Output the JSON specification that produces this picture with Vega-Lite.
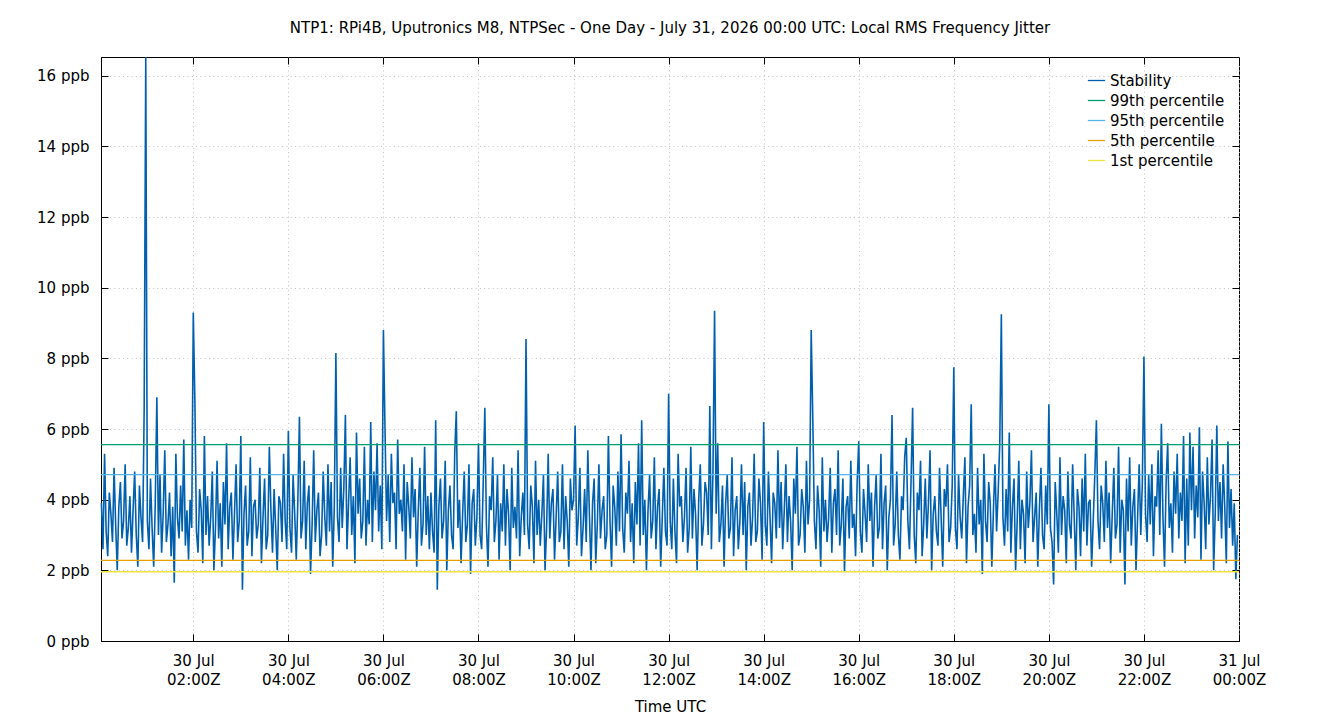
{
"$schema": "https://vega.github.io/schema/vega-lite/v6.json",
"autosize": "none",
"width": 1138,
"height": 584,
"padding": {"left": 101, "top": 57, "right": 101, "bottom": 79},
"background": "white",
"title": {"text": "NTP1: RPi4B, Uputronics M8, NTPSec - One Day - July 31, 2026 00:00 UTC: Local RMS Frequency Jitter", "fontSize": 15, "fontWeight": "normal", "color": "black", "offset": 18},
"datasets": {
"pct": [
{"p": "99th percentile", "v": 5.56},
{"p": "95th percentile", "v": 4.71},
{"p": "5th percentile", "v": 2.28},
{"p": "1st percentile", "v": 1.96}
],
"stab": [
{"t":"2026-07-30T00:04Z","v":3.9},{"t":"2026-07-30T00:06Z","v":2.6},{"t":"2026-07-30T00:08Z","v":5.3},{"t":"2026-07-30T00:10Z","v":3.1},{"t":"2026-07-30T00:12Z","v":2.4},{"t":"2026-07-30T00:14Z","v":4.2},{"t":"2026-07-30T00:16Z","v":3.6},{"t":"2026-07-30T00:18Z","v":2.8},{"t":"2026-07-30T00:20Z","v":4.9},{"t":"2026-07-30T00:22Z","v":3.3},{"t":"2026-07-30T00:24Z","v":2.0},{"t":"2026-07-30T00:26Z","v":3.8},{"t":"2026-07-30T00:28Z","v":4.5},{"t":"2026-07-30T00:30Z","v":2.9},{"t":"2026-07-30T00:32Z","v":3.4},{"t":"2026-07-30T00:34Z","v":5.0},{"t":"2026-07-30T00:36Z","v":2.7},{"t":"2026-07-30T00:38Z","v":3.2},{"t":"2026-07-30T00:40Z","v":4.1},{"t":"2026-07-30T00:42Z","v":2.5},{"t":"2026-07-30T00:44Z","v":3.7},{"t":"2026-07-30T00:46Z","v":4.8},{"t":"2026-07-30T00:48Z","v":3.0},{"t":"2026-07-30T00:50Z","v":2.1},{"t":"2026-07-30T00:52Z","v":4.4},{"t":"2026-07-30T00:54Z","v":3.5},{"t":"2026-07-30T00:56Z","v":2.8},{"t":"2026-07-30T00:58Z","v":6.55},
{"t":"2026-07-30T01:00Z","v":16.53},{"t":"2026-07-30T01:02Z","v":3.4},{"t":"2026-07-30T01:04Z","v":2.6},{"t":"2026-07-30T01:06Z","v":4.6},{"t":"2026-07-30T01:08Z","v":3.2},{"t":"2026-07-30T01:10Z","v":2.1},{"t":"2026-07-30T01:12Z","v":3.9},{"t":"2026-07-30T01:14Z","v":6.9},{"t":"2026-07-30T01:16Z","v":3.0},{"t":"2026-07-30T01:18Z","v":4.7},{"t":"2026-07-30T01:20Z","v":2.5},{"t":"2026-07-30T01:22Z","v":3.6},{"t":"2026-07-30T01:24Z","v":5.4},{"t":"2026-07-30T01:26Z","v":2.8},{"t":"2026-07-30T01:28Z","v":3.3},{"t":"2026-07-30T01:30Z","v":4.2},{"t":"2026-07-30T01:32Z","v":2.4},{"t":"2026-07-30T01:34Z","v":3.8},{"t":"2026-07-30T01:36Z","v":1.65},{"t":"2026-07-30T01:38Z","v":5.3},{"t":"2026-07-30T01:40Z","v":3.5},{"t":"2026-07-30T01:42Z","v":2.9},{"t":"2026-07-30T01:44Z","v":4.4},{"t":"2026-07-30T01:46Z","v":3.1},{"t":"2026-07-30T01:48Z","v":5.7},{"t":"2026-07-30T01:50Z","v":2.7},{"t":"2026-07-30T01:52Z","v":3.7},{"t":"2026-07-30T01:54Z","v":2.3},{"t":"2026-07-30T01:56Z","v":4.0},{"t":"2026-07-30T01:58Z","v":3.2},
{"t":"2026-07-30T02:00Z","v":9.3},{"t":"2026-07-30T02:02Z","v":6.8},{"t":"2026-07-30T02:04Z","v":3.1},{"t":"2026-07-30T02:06Z","v":2.5},{"t":"2026-07-30T02:08Z","v":4.3},{"t":"2026-07-30T02:10Z","v":3.7},{"t":"2026-07-30T02:12Z","v":2.2},{"t":"2026-07-30T02:14Z","v":5.8},{"t":"2026-07-30T02:16Z","v":3.0},{"t":"2026-07-30T02:18Z","v":4.1},{"t":"2026-07-30T02:20Z","v":2.7},{"t":"2026-07-30T02:22Z","v":3.5},{"t":"2026-07-30T02:24Z","v":4.8},{"t":"2026-07-30T02:26Z","v":2.0},{"t":"2026-07-30T02:28Z","v":3.2},{"t":"2026-07-30T02:30Z","v":5.1},{"t":"2026-07-30T02:32Z","v":2.9},{"t":"2026-07-30T02:34Z","v":3.9},{"t":"2026-07-30T02:36Z","v":2.1},{"t":"2026-07-30T02:38Z","v":4.5},{"t":"2026-07-30T02:40Z","v":3.3},{"t":"2026-07-30T02:42Z","v":5.6},{"t":"2026-07-30T02:44Z","v":2.6},{"t":"2026-07-30T02:46Z","v":3.8},{"t":"2026-07-30T02:48Z","v":4.2},{"t":"2026-07-30T02:50Z","v":2.3},{"t":"2026-07-30T02:52Z","v":3.6},{"t":"2026-07-30T02:54Z","v":5.0},{"t":"2026-07-30T02:56Z","v":2.8},{"t":"2026-07-30T02:58Z","v":3.4},
{"t":"2026-07-30T03:00Z","v":5.8},{"t":"2026-07-30T03:02Z","v":1.45},{"t":"2026-07-30T03:04Z","v":3.6},{"t":"2026-07-30T03:06Z","v":4.4},{"t":"2026-07-30T03:08Z","v":2.7},{"t":"2026-07-30T03:10Z","v":3.1},{"t":"2026-07-30T03:12Z","v":5.2},{"t":"2026-07-30T03:14Z","v":2.4},{"t":"2026-07-30T03:16Z","v":3.8},{"t":"2026-07-30T03:18Z","v":4.0},{"t":"2026-07-30T03:20Z","v":2.9},{"t":"2026-07-30T03:22Z","v":3.3},{"t":"2026-07-30T03:24Z","v":4.9},{"t":"2026-07-30T03:26Z","v":2.2},{"t":"2026-07-30T03:28Z","v":3.5},{"t":"2026-07-30T03:30Z","v":4.6},{"t":"2026-07-30T03:32Z","v":2.6},{"t":"2026-07-30T03:34Z","v":3.0},{"t":"2026-07-30T03:36Z","v":5.5},{"t":"2026-07-30T03:38Z","v":3.7},{"t":"2026-07-30T03:40Z","v":2.5},{"t":"2026-07-30T03:42Z","v":4.3},{"t":"2026-07-30T03:44Z","v":3.2},{"t":"2026-07-30T03:46Z","v":2.0},{"t":"2026-07-30T03:48Z","v":4.1},{"t":"2026-07-30T03:50Z","v":3.9},{"t":"2026-07-30T03:52Z","v":2.8},{"t":"2026-07-30T03:54Z","v":5.3},{"t":"2026-07-30T03:56Z","v":3.4},{"t":"2026-07-30T03:58Z","v":2.6},
{"t":"2026-07-30T04:00Z","v":5.95},{"t":"2026-07-30T04:02Z","v":3.2},{"t":"2026-07-30T04:04Z","v":2.5},{"t":"2026-07-30T04:06Z","v":4.7},{"t":"2026-07-30T04:08Z","v":3.6},{"t":"2026-07-30T04:10Z","v":2.3},{"t":"2026-07-30T04:12Z","v":4.0},{"t":"2026-07-30T04:14Z","v":6.35},{"t":"2026-07-30T04:16Z","v":2.9},{"t":"2026-07-30T04:18Z","v":3.4},{"t":"2026-07-30T04:20Z","v":5.1},{"t":"2026-07-30T04:22Z","v":2.6},{"t":"2026-07-30T04:24Z","v":3.9},{"t":"2026-07-30T04:26Z","v":4.4},{"t":"2026-07-30T04:28Z","v":1.9},{"t":"2026-07-30T04:30Z","v":3.3},{"t":"2026-07-30T04:32Z","v":5.4},{"t":"2026-07-30T04:34Z","v":2.8},{"t":"2026-07-30T04:36Z","v":3.7},{"t":"2026-07-30T04:38Z","v":4.2},{"t":"2026-07-30T04:40Z","v":2.4},{"t":"2026-07-30T04:42Z","v":3.0},{"t":"2026-07-30T04:44Z","v":4.8},{"t":"2026-07-30T04:46Z","v":3.5},{"t":"2026-07-30T04:48Z","v":2.7},{"t":"2026-07-30T04:50Z","v":5.0},{"t":"2026-07-30T04:52Z","v":3.1},{"t":"2026-07-30T04:54Z","v":4.5},{"t":"2026-07-30T04:56Z","v":2.1},{"t":"2026-07-30T04:58Z","v":3.8},
{"t":"2026-07-30T05:00Z","v":8.15},{"t":"2026-07-30T05:02Z","v":3.5},{"t":"2026-07-30T05:04Z","v":2.8},{"t":"2026-07-30T05:06Z","v":4.9},{"t":"2026-07-30T05:08Z","v":3.2},{"t":"2026-07-30T05:10Z","v":4.3},{"t":"2026-07-30T05:12Z","v":6.4},{"t":"2026-07-30T05:14Z","v":2.6},{"t":"2026-07-30T05:16Z","v":3.9},{"t":"2026-07-30T05:18Z","v":5.2},{"t":"2026-07-30T05:20Z","v":3.0},{"t":"2026-07-30T05:22Z","v":4.1},{"t":"2026-07-30T05:24Z","v":2.2},{"t":"2026-07-30T05:26Z","v":5.9},{"t":"2026-07-30T05:28Z","v":3.6},{"t":"2026-07-30T05:30Z","v":4.6},{"t":"2026-07-30T05:32Z","v":2.9},{"t":"2026-07-30T05:34Z","v":3.4},{"t":"2026-07-30T05:36Z","v":5.5},{"t":"2026-07-30T05:38Z","v":2.7},{"t":"2026-07-30T05:40Z","v":4.0},{"t":"2026-07-30T05:42Z","v":3.3},{"t":"2026-07-30T05:44Z","v":6.2},{"t":"2026-07-30T05:46Z","v":2.8},{"t":"2026-07-30T05:48Z","v":4.8},{"t":"2026-07-30T05:50Z","v":3.7},{"t":"2026-07-30T05:52Z","v":5.6},{"t":"2026-07-30T05:54Z","v":3.1},{"t":"2026-07-30T05:56Z","v":4.4},{"t":"2026-07-30T05:58Z","v":2.6},
{"t":"2026-07-30T06:00Z","v":8.8},{"t":"2026-07-30T06:02Z","v":6.0},{"t":"2026-07-30T06:04Z","v":3.4},{"t":"2026-07-30T06:06Z","v":4.7},{"t":"2026-07-30T06:08Z","v":2.8},{"t":"2026-07-30T06:10Z","v":5.3},{"t":"2026-07-30T06:12Z","v":3.9},{"t":"2026-07-30T06:14Z","v":4.2},{"t":"2026-07-30T06:16Z","v":2.6},{"t":"2026-07-30T06:18Z","v":5.7},{"t":"2026-07-30T06:20Z","v":3.6},{"t":"2026-07-30T06:22Z","v":4.0},{"t":"2026-07-30T06:24Z","v":3.1},{"t":"2026-07-30T06:26Z","v":5.0},{"t":"2026-07-30T06:28Z","v":2.3},{"t":"2026-07-30T06:30Z","v":4.5},{"t":"2026-07-30T06:32Z","v":3.8},{"t":"2026-07-30T06:34Z","v":2.9},{"t":"2026-07-30T06:36Z","v":5.2},{"t":"2026-07-30T06:38Z","v":3.5},{"t":"2026-07-30T06:40Z","v":4.3},{"t":"2026-07-30T06:42Z","v":2.1},{"t":"2026-07-30T06:44Z","v":3.7},{"t":"2026-07-30T06:46Z","v":4.9},{"t":"2026-07-30T06:48Z","v":2.7},{"t":"2026-07-30T06:50Z","v":3.3},{"t":"2026-07-30T06:52Z","v":5.5},{"t":"2026-07-30T06:54Z","v":3.0},{"t":"2026-07-30T06:56Z","v":4.1},{"t":"2026-07-30T06:58Z","v":2.6},
{"t":"2026-07-30T07:00Z","v":4.2},{"t":"2026-07-30T07:02Z","v":3.1},{"t":"2026-07-30T07:04Z","v":2.5},{"t":"2026-07-30T07:06Z","v":6.25},{"t":"2026-07-30T07:08Z","v":1.45},{"t":"2026-07-30T07:10Z","v":3.8},{"t":"2026-07-30T07:12Z","v":4.6},{"t":"2026-07-30T07:14Z","v":2.9},{"t":"2026-07-30T07:16Z","v":3.4},{"t":"2026-07-30T07:18Z","v":5.1},{"t":"2026-07-30T07:20Z","v":2.0},{"t":"2026-07-30T07:22Z","v":3.7},{"t":"2026-07-30T07:24Z","v":4.4},{"t":"2026-07-30T07:26Z","v":3.0},{"t":"2026-07-30T07:28Z","v":2.6},{"t":"2026-07-30T07:30Z","v":5.3},{"t":"2026-07-30T07:32Z","v":6.5},{"t":"2026-07-30T07:34Z","v":3.2},{"t":"2026-07-30T07:36Z","v":4.0},{"t":"2026-07-30T07:38Z","v":2.2},{"t":"2026-07-30T07:40Z","v":3.6},{"t":"2026-07-30T07:42Z","v":4.8},{"t":"2026-07-30T07:44Z","v":2.8},{"t":"2026-07-30T07:46Z","v":3.3},{"t":"2026-07-30T07:48Z","v":5.0},{"t":"2026-07-30T07:50Z","v":1.9},{"t":"2026-07-30T07:52Z","v":3.9},{"t":"2026-07-30T07:54Z","v":4.3},{"t":"2026-07-30T07:56Z","v":2.7},{"t":"2026-07-30T07:58Z","v":3.5},
{"t":"2026-07-30T08:00Z","v":5.6},{"t":"2026-07-30T08:02Z","v":3.0},{"t":"2026-07-30T08:04Z","v":2.6},{"t":"2026-07-30T08:06Z","v":4.5},{"t":"2026-07-30T08:08Z","v":6.6},{"t":"2026-07-30T08:10Z","v":3.3},{"t":"2026-07-30T08:12Z","v":2.1},{"t":"2026-07-30T08:14Z","v":4.1},{"t":"2026-07-30T08:16Z","v":3.7},{"t":"2026-07-30T08:18Z","v":5.2},{"t":"2026-07-30T08:20Z","v":2.8},{"t":"2026-07-30T08:22Z","v":3.4},{"t":"2026-07-30T08:24Z","v":4.7},{"t":"2026-07-30T08:26Z","v":2.3},{"t":"2026-07-30T08:28Z","v":3.9},{"t":"2026-07-30T08:30Z","v":3.1},{"t":"2026-07-30T08:32Z","v":5.0},{"t":"2026-07-30T08:34Z","v":2.7},{"t":"2026-07-30T08:36Z","v":4.3},{"t":"2026-07-30T08:38Z","v":3.6},{"t":"2026-07-30T08:40Z","v":2.0},{"t":"2026-07-30T08:42Z","v":4.9},{"t":"2026-07-30T08:44Z","v":3.2},{"t":"2026-07-30T08:46Z","v":3.8},{"t":"2026-07-30T08:48Z","v":2.9},{"t":"2026-07-30T08:50Z","v":5.4},{"t":"2026-07-30T08:52Z","v":2.4},{"t":"2026-07-30T08:54Z","v":3.5},{"t":"2026-07-30T08:56Z","v":4.2},{"t":"2026-07-30T08:58Z","v":3.0},
{"t":"2026-07-30T09:00Z","v":8.55},{"t":"2026-07-30T09:02Z","v":3.3},{"t":"2026-07-30T09:04Z","v":2.6},{"t":"2026-07-30T09:06Z","v":4.4},{"t":"2026-07-30T09:08Z","v":3.8},{"t":"2026-07-30T09:10Z","v":2.2},{"t":"2026-07-30T09:12Z","v":5.1},{"t":"2026-07-30T09:14Z","v":3.0},{"t":"2026-07-30T09:16Z","v":4.0},{"t":"2026-07-30T09:18Z","v":2.7},{"t":"2026-07-30T09:20Z","v":3.6},{"t":"2026-07-30T09:22Z","v":4.7},{"t":"2026-07-30T09:24Z","v":2.0},{"t":"2026-07-30T09:26Z","v":3.2},{"t":"2026-07-30T09:28Z","v":5.3},{"t":"2026-07-30T09:30Z","v":2.9},{"t":"2026-07-30T09:32Z","v":3.9},{"t":"2026-07-30T09:34Z","v":4.3},{"t":"2026-07-30T09:36Z","v":2.3},{"t":"2026-07-30T09:38Z","v":3.5},{"t":"2026-07-30T09:40Z","v":4.8},{"t":"2026-07-30T09:42Z","v":2.8},{"t":"2026-07-30T09:44Z","v":3.1},{"t":"2026-07-30T09:46Z","v":5.0},{"t":"2026-07-30T09:48Z","v":2.6},{"t":"2026-07-30T09:50Z","v":4.1},{"t":"2026-07-30T09:52Z","v":3.4},{"t":"2026-07-30T09:54Z","v":2.1},{"t":"2026-07-30T09:56Z","v":4.6},{"t":"2026-07-30T09:58Z","v":3.7},
{"t":"2026-07-30T10:00Z","v":4.0},{"t":"2026-07-30T10:02Z","v":6.1},{"t":"2026-07-30T10:04Z","v":2.7},{"t":"2026-07-30T10:06Z","v":3.5},{"t":"2026-07-30T10:08Z","v":4.9},{"t":"2026-07-30T10:10Z","v":2.4},{"t":"2026-07-30T10:12Z","v":3.2},{"t":"2026-07-30T10:14Z","v":4.3},{"t":"2026-07-30T10:16Z","v":2.8},{"t":"2026-07-30T10:18Z","v":5.4},{"t":"2026-07-30T10:20Z","v":3.6},{"t":"2026-07-30T10:22Z","v":2.0},{"t":"2026-07-30T10:24Z","v":3.9},{"t":"2026-07-30T10:26Z","v":4.6},{"t":"2026-07-30T10:28Z","v":2.2},{"t":"2026-07-30T10:30Z","v":3.3},{"t":"2026-07-30T10:32Z","v":5.0},{"t":"2026-07-30T10:34Z","v":2.9},{"t":"2026-07-30T10:36Z","v":3.7},{"t":"2026-07-30T10:38Z","v":4.1},{"t":"2026-07-30T10:40Z","v":2.6},{"t":"2026-07-30T10:42Z","v":3.0},{"t":"2026-07-30T10:44Z","v":5.8},{"t":"2026-07-30T10:46Z","v":3.4},{"t":"2026-07-30T10:48Z","v":2.1},{"t":"2026-07-30T10:50Z","v":4.4},{"t":"2026-07-30T10:52Z","v":3.8},{"t":"2026-07-30T10:54Z","v":2.7},{"t":"2026-07-30T10:56Z","v":4.8},{"t":"2026-07-30T10:58Z","v":3.1},
{"t":"2026-07-30T11:00Z","v":5.85},{"t":"2026-07-30T11:02Z","v":3.2},{"t":"2026-07-30T11:04Z","v":2.5},{"t":"2026-07-30T11:06Z","v":4.2},{"t":"2026-07-30T11:08Z","v":3.6},{"t":"2026-07-30T11:10Z","v":5.1},{"t":"2026-07-30T11:12Z","v":2.8},{"t":"2026-07-30T11:14Z","v":3.9},{"t":"2026-07-30T11:16Z","v":2.2},{"t":"2026-07-30T11:18Z","v":4.5},{"t":"2026-07-30T11:20Z","v":3.3},{"t":"2026-07-30T11:22Z","v":5.6},{"t":"2026-07-30T11:24Z","v":2.7},{"t":"2026-07-30T11:26Z","v":6.25},{"t":"2026-07-30T11:28Z","v":3.0},{"t":"2026-07-30T11:30Z","v":4.0},{"t":"2026-07-30T11:32Z","v":2.0},{"t":"2026-07-30T11:34Z","v":3.7},{"t":"2026-07-30T11:36Z","v":4.7},{"t":"2026-07-30T11:38Z","v":2.9},{"t":"2026-07-30T11:40Z","v":3.4},{"t":"2026-07-30T11:42Z","v":5.2},{"t":"2026-07-30T11:44Z","v":2.6},{"t":"2026-07-30T11:46Z","v":3.8},{"t":"2026-07-30T11:48Z","v":4.3},{"t":"2026-07-30T11:50Z","v":2.1},{"t":"2026-07-30T11:52Z","v":3.5},{"t":"2026-07-30T11:54Z","v":4.9},{"t":"2026-07-30T11:56Z","v":3.1},{"t":"2026-07-30T11:58Z","v":2.7},
{"t":"2026-07-30T12:00Z","v":7.0},{"t":"2026-07-30T12:02Z","v":3.4},{"t":"2026-07-30T12:04Z","v":2.6},{"t":"2026-07-30T12:06Z","v":4.6},{"t":"2026-07-30T12:08Z","v":3.1},{"t":"2026-07-30T12:10Z","v":2.2},{"t":"2026-07-30T12:12Z","v":5.3},{"t":"2026-07-30T12:14Z","v":3.8},{"t":"2026-07-30T12:16Z","v":4.1},{"t":"2026-07-30T12:18Z","v":2.8},{"t":"2026-07-30T12:20Z","v":3.5},{"t":"2026-07-30T12:22Z","v":4.9},{"t":"2026-07-30T12:24Z","v":2.5},{"t":"2026-07-30T12:26Z","v":3.2},{"t":"2026-07-30T12:28Z","v":5.5},{"t":"2026-07-30T12:30Z","v":2.9},{"t":"2026-07-30T12:32Z","v":4.3},{"t":"2026-07-30T12:34Z","v":3.6},{"t":"2026-07-30T12:36Z","v":2.0},{"t":"2026-07-30T12:38Z","v":4.0},{"t":"2026-07-30T12:40Z","v":5.0},{"t":"2026-07-30T12:42Z","v":2.7},{"t":"2026-07-30T12:44Z","v":3.3},{"t":"2026-07-30T12:46Z","v":4.5},{"t":"2026-07-30T12:48Z","v":4.2},{"t":"2026-07-30T12:50Z","v":3.0},{"t":"2026-07-30T12:52Z","v":6.65},{"t":"2026-07-30T12:54Z","v":2.6},{"t":"2026-07-30T12:56Z","v":4.8},{"t":"2026-07-30T12:58Z","v":9.35},
{"t":"2026-07-30T13:00Z","v":3.6},{"t":"2026-07-30T13:02Z","v":5.6},{"t":"2026-07-30T13:04Z","v":2.8},{"t":"2026-07-30T13:06Z","v":3.3},{"t":"2026-07-30T13:08Z","v":4.4},{"t":"2026-07-30T13:10Z","v":2.1},{"t":"2026-07-30T13:12Z","v":3.9},{"t":"2026-07-30T13:14Z","v":4.7},{"t":"2026-07-30T13:16Z","v":2.9},{"t":"2026-07-30T13:18Z","v":3.2},{"t":"2026-07-30T13:20Z","v":5.2},{"t":"2026-07-30T13:22Z","v":2.4},{"t":"2026-07-30T13:24Z","v":3.7},{"t":"2026-07-30T13:26Z","v":4.1},{"t":"2026-07-30T13:28Z","v":2.6},{"t":"2026-07-30T13:30Z","v":3.4},{"t":"2026-07-30T13:32Z","v":5.0},{"t":"2026-07-30T13:34Z","v":3.0},{"t":"2026-07-30T13:36Z","v":4.5},{"t":"2026-07-30T13:38Z","v":2.0},{"t":"2026-07-30T13:40Z","v":3.8},{"t":"2026-07-30T13:42Z","v":4.2},{"t":"2026-07-30T13:44Z","v":2.7},{"t":"2026-07-30T13:46Z","v":3.5},{"t":"2026-07-30T13:48Z","v":5.3},{"t":"2026-07-30T13:50Z","v":2.8},{"t":"2026-07-30T13:52Z","v":3.1},{"t":"2026-07-30T13:54Z","v":4.6},{"t":"2026-07-30T13:56Z","v":3.9},{"t":"2026-07-30T13:58Z","v":2.3},
{"t":"2026-07-30T14:00Z","v":6.2},{"t":"2026-07-30T14:02Z","v":3.3},{"t":"2026-07-30T14:04Z","v":2.7},{"t":"2026-07-30T14:06Z","v":4.8},{"t":"2026-07-30T14:08Z","v":3.5},{"t":"2026-07-30T14:10Z","v":2.2},{"t":"2026-07-30T14:12Z","v":4.2},{"t":"2026-07-30T14:14Z","v":3.9},{"t":"2026-07-30T14:16Z","v":2.9},{"t":"2026-07-30T14:18Z","v":5.4},{"t":"2026-07-30T14:20Z","v":3.2},{"t":"2026-07-30T14:22Z","v":4.5},{"t":"2026-07-30T14:24Z","v":2.6},{"t":"2026-07-30T14:26Z","v":3.7},{"t":"2026-07-30T14:28Z","v":5.0},{"t":"2026-07-30T14:30Z","v":2.8},{"t":"2026-07-30T14:32Z","v":4.1},{"t":"2026-07-30T14:34Z","v":3.4},{"t":"2026-07-30T14:36Z","v":2.0},{"t":"2026-07-30T14:38Z","v":4.6},{"t":"2026-07-30T14:40Z","v":3.6},{"t":"2026-07-30T14:42Z","v":5.5},{"t":"2026-07-30T14:44Z","v":2.7},{"t":"2026-07-30T14:46Z","v":3.0},{"t":"2026-07-30T14:48Z","v":4.3},{"t":"2026-07-30T14:50Z","v":3.8},{"t":"2026-07-30T14:52Z","v":2.5},{"t":"2026-07-30T14:54Z","v":5.1},{"t":"2026-07-30T14:56Z","v":3.3},{"t":"2026-07-30T14:58Z","v":4.0},
{"t":"2026-07-30T15:00Z","v":8.8},{"t":"2026-07-30T15:02Z","v":6.3},{"t":"2026-07-30T15:04Z","v":3.4},{"t":"2026-07-30T15:06Z","v":2.6},{"t":"2026-07-30T15:08Z","v":4.4},{"t":"2026-07-30T15:10Z","v":3.7},{"t":"2026-07-30T15:12Z","v":2.1},{"t":"2026-07-30T15:14Z","v":5.2},{"t":"2026-07-30T15:16Z","v":3.1},{"t":"2026-07-30T15:18Z","v":4.0},{"t":"2026-07-30T15:20Z","v":2.8},{"t":"2026-07-30T15:22Z","v":3.5},{"t":"2026-07-30T15:24Z","v":4.9},{"t":"2026-07-30T15:26Z","v":2.5},{"t":"2026-07-30T15:28Z","v":3.9},{"t":"2026-07-30T15:30Z","v":4.3},{"t":"2026-07-30T15:32Z","v":3.0},{"t":"2026-07-30T15:34Z","v":5.4},{"t":"2026-07-30T15:36Z","v":2.7},{"t":"2026-07-30T15:38Z","v":3.3},{"t":"2026-07-30T15:40Z","v":4.6},{"t":"2026-07-30T15:42Z","v":1.95},{"t":"2026-07-30T15:44Z","v":3.8},{"t":"2026-07-30T15:46Z","v":4.1},{"t":"2026-07-30T15:48Z","v":2.9},{"t":"2026-07-30T15:50Z","v":5.1},{"t":"2026-07-30T15:52Z","v":3.2},{"t":"2026-07-30T15:54Z","v":3.6},{"t":"2026-07-30T15:56Z","v":2.4},{"t":"2026-07-30T15:58Z","v":4.5},
{"t":"2026-07-30T16:00Z","v":5.65},{"t":"2026-07-30T16:02Z","v":3.1},{"t":"2026-07-30T16:04Z","v":2.5},{"t":"2026-07-30T16:06Z","v":4.3},{"t":"2026-07-30T16:08Z","v":3.6},{"t":"2026-07-30T16:10Z","v":2.8},{"t":"2026-07-30T16:12Z","v":5.0},{"t":"2026-07-30T16:14Z","v":3.4},{"t":"2026-07-30T16:16Z","v":4.2},{"t":"2026-07-30T16:18Z","v":2.1},{"t":"2026-07-30T16:20Z","v":3.8},{"t":"2026-07-30T16:22Z","v":4.7},{"t":"2026-07-30T16:24Z","v":2.9},{"t":"2026-07-30T16:26Z","v":3.2},{"t":"2026-07-30T16:28Z","v":5.3},{"t":"2026-07-30T16:30Z","v":2.6},{"t":"2026-07-30T16:32Z","v":3.9},{"t":"2026-07-30T16:34Z","v":4.4},{"t":"2026-07-30T16:36Z","v":2.0},{"t":"2026-07-30T16:38Z","v":3.5},{"t":"2026-07-30T16:40Z","v":4.0},{"t":"2026-07-30T16:42Z","v":6.4},{"t":"2026-07-30T16:44Z","v":2.7},{"t":"2026-07-30T16:46Z","v":3.3},{"t":"2026-07-30T16:48Z","v":4.8},{"t":"2026-07-30T16:50Z","v":3.0},{"t":"2026-07-30T16:52Z","v":2.3},{"t":"2026-07-30T16:54Z","v":4.1},{"t":"2026-07-30T16:56Z","v":3.7},{"t":"2026-07-30T16:58Z","v":5.2},
{"t":"2026-07-30T17:00Z","v":5.75},{"t":"2026-07-30T17:02Z","v":3.4},{"t":"2026-07-30T17:04Z","v":2.6},{"t":"2026-07-30T17:06Z","v":4.5},{"t":"2026-07-30T17:08Z","v":6.6},{"t":"2026-07-30T17:10Z","v":3.0},{"t":"2026-07-30T17:12Z","v":2.2},{"t":"2026-07-30T17:14Z","v":4.2},{"t":"2026-07-30T17:16Z","v":3.7},{"t":"2026-07-30T17:18Z","v":5.1},{"t":"2026-07-30T17:20Z","v":2.4},{"t":"2026-07-30T17:22Z","v":3.3},{"t":"2026-07-30T17:24Z","v":4.6},{"t":"2026-07-30T17:26Z","v":2.9},{"t":"2026-07-30T17:28Z","v":3.9},{"t":"2026-07-30T17:30Z","v":5.4},{"t":"2026-07-30T17:32Z","v":2.0},{"t":"2026-07-30T17:34Z","v":3.6},{"t":"2026-07-30T17:36Z","v":4.1},{"t":"2026-07-30T17:38Z","v":3.1},{"t":"2026-07-30T17:40Z","v":2.7},{"t":"2026-07-30T17:42Z","v":4.9},{"t":"2026-07-30T17:44Z","v":3.5},{"t":"2026-07-30T17:46Z","v":2.1},{"t":"2026-07-30T17:48Z","v":4.3},{"t":"2026-07-30T17:50Z","v":3.8},{"t":"2026-07-30T17:52Z","v":5.0},{"t":"2026-07-30T17:54Z","v":2.8},{"t":"2026-07-30T17:56Z","v":3.2},{"t":"2026-07-30T17:58Z","v":4.4},
{"t":"2026-07-30T18:00Z","v":7.75},{"t":"2026-07-30T18:02Z","v":3.2},{"t":"2026-07-30T18:04Z","v":2.6},{"t":"2026-07-30T18:06Z","v":4.7},{"t":"2026-07-30T18:08Z","v":3.5},{"t":"2026-07-30T18:10Z","v":2.9},{"t":"2026-07-30T18:12Z","v":4.1},{"t":"2026-07-30T18:14Z","v":5.2},{"t":"2026-07-30T18:16Z","v":2.2},{"t":"2026-07-30T18:18Z","v":3.8},{"t":"2026-07-30T18:20Z","v":4.4},{"t":"2026-07-30T18:22Z","v":6.7},{"t":"2026-07-30T18:24Z","v":3.0},{"t":"2026-07-30T18:26Z","v":3.6},{"t":"2026-07-30T18:28Z","v":2.5},{"t":"2026-07-30T18:30Z","v":4.9},{"t":"2026-07-30T18:32Z","v":3.3},{"t":"2026-07-30T18:34Z","v":4.0},{"t":"2026-07-30T18:36Z","v":1.9},{"t":"2026-07-30T18:38Z","v":5.3},{"t":"2026-07-30T18:40Z","v":3.4},{"t":"2026-07-30T18:42Z","v":2.8},{"t":"2026-07-30T18:44Z","v":4.5},{"t":"2026-07-30T18:46Z","v":3.9},{"t":"2026-07-30T18:48Z","v":2.1},{"t":"2026-07-30T18:50Z","v":3.7},{"t":"2026-07-30T18:52Z","v":5.0},{"t":"2026-07-30T18:54Z","v":3.1},{"t":"2026-07-30T18:56Z","v":4.2},{"t":"2026-07-30T18:58Z","v":5.6},
{"t":"2026-07-30T19:00Z","v":9.25},{"t":"2026-07-30T19:02Z","v":3.5},{"t":"2026-07-30T19:04Z","v":2.7},{"t":"2026-07-30T19:06Z","v":4.3},{"t":"2026-07-30T19:08Z","v":3.1},{"t":"2026-07-30T19:10Z","v":5.9},{"t":"2026-07-30T19:12Z","v":2.5},{"t":"2026-07-30T19:14Z","v":3.8},{"t":"2026-07-30T19:16Z","v":4.6},{"t":"2026-07-30T19:18Z","v":2.0},{"t":"2026-07-30T19:20Z","v":3.4},{"t":"2026-07-30T19:22Z","v":5.1},{"t":"2026-07-30T19:24Z","v":2.6},{"t":"2026-07-30T19:26Z","v":4.0},{"t":"2026-07-30T19:28Z","v":3.6},{"t":"2026-07-30T19:30Z","v":2.2},{"t":"2026-07-30T19:32Z","v":4.8},{"t":"2026-07-30T19:34Z","v":3.2},{"t":"2026-07-30T19:36Z","v":3.9},{"t":"2026-07-30T19:38Z","v":5.4},{"t":"2026-07-30T19:40Z","v":2.8},{"t":"2026-07-30T19:42Z","v":3.5},{"t":"2026-07-30T19:44Z","v":4.2},{"t":"2026-07-30T19:46Z","v":2.1},{"t":"2026-07-30T19:48Z","v":3.7},{"t":"2026-07-30T19:50Z","v":4.9},{"t":"2026-07-30T19:52Z","v":3.0},{"t":"2026-07-30T19:54Z","v":2.6},{"t":"2026-07-30T19:56Z","v":4.4},{"t":"2026-07-30T19:58Z","v":3.3},
{"t":"2026-07-30T20:00Z","v":6.7},{"t":"2026-07-30T20:02Z","v":3.2},{"t":"2026-07-30T20:04Z","v":2.8},{"t":"2026-07-30T20:06Z","v":1.6},{"t":"2026-07-30T20:08Z","v":4.5},{"t":"2026-07-30T20:10Z","v":3.6},{"t":"2026-07-30T20:12Z","v":2.5},{"t":"2026-07-30T20:14Z","v":5.2},{"t":"2026-07-30T20:16Z","v":3.0},{"t":"2026-07-30T20:18Z","v":4.1},{"t":"2026-07-30T20:20Z","v":3.7},{"t":"2026-07-30T20:22Z","v":2.2},{"t":"2026-07-30T20:24Z","v":4.8},{"t":"2026-07-30T20:26Z","v":3.3},{"t":"2026-07-30T20:28Z","v":2.9},{"t":"2026-07-30T20:30Z","v":5.0},{"t":"2026-07-30T20:32Z","v":3.5},{"t":"2026-07-30T20:34Z","v":2.0},{"t":"2026-07-30T20:36Z","v":4.3},{"t":"2026-07-30T20:38Z","v":3.8},{"t":"2026-07-30T20:40Z","v":2.4},{"t":"2026-07-30T20:42Z","v":4.6},{"t":"2026-07-30T20:44Z","v":3.1},{"t":"2026-07-30T20:46Z","v":5.3},{"t":"2026-07-30T20:48Z","v":2.7},{"t":"2026-07-30T20:50Z","v":3.9},{"t":"2026-07-30T20:52Z","v":4.0},{"t":"2026-07-30T20:54Z","v":2.1},{"t":"2026-07-30T20:56Z","v":3.4},{"t":"2026-07-30T20:58Z","v":4.7},
{"t":"2026-07-30T21:00Z","v":6.25},{"t":"2026-07-30T21:02Z","v":3.4},{"t":"2026-07-30T21:04Z","v":2.6},{"t":"2026-07-30T21:06Z","v":4.4},{"t":"2026-07-30T21:08Z","v":3.9},{"t":"2026-07-30T21:10Z","v":2.8},{"t":"2026-07-30T21:12Z","v":5.1},{"t":"2026-07-30T21:14Z","v":3.2},{"t":"2026-07-30T21:16Z","v":4.2},{"t":"2026-07-30T21:18Z","v":2.2},{"t":"2026-07-30T21:20Z","v":3.6},{"t":"2026-07-30T21:22Z","v":4.9},{"t":"2026-07-30T21:24Z","v":2.9},{"t":"2026-07-30T21:26Z","v":3.3},{"t":"2026-07-30T21:28Z","v":5.5},{"t":"2026-07-30T21:30Z","v":2.5},{"t":"2026-07-30T21:32Z","v":4.0},{"t":"2026-07-30T21:34Z","v":3.7},{"t":"2026-07-30T21:36Z","v":1.6},{"t":"2026-07-30T21:38Z","v":4.6},{"t":"2026-07-30T21:40Z","v":3.1},{"t":"2026-07-30T21:42Z","v":5.2},{"t":"2026-07-30T21:44Z","v":2.7},{"t":"2026-07-30T21:46Z","v":3.8},{"t":"2026-07-30T21:48Z","v":4.3},{"t":"2026-07-30T21:50Z","v":2.0},{"t":"2026-07-30T21:52Z","v":3.5},{"t":"2026-07-30T21:54Z","v":5.0},{"t":"2026-07-30T21:56Z","v":3.0},{"t":"2026-07-30T21:58Z","v":4.5},
{"t":"2026-07-30T22:00Z","v":8.05},{"t":"2026-07-30T22:02Z","v":3.6},{"t":"2026-07-30T22:04Z","v":2.8},{"t":"2026-07-30T22:06Z","v":4.7},{"t":"2026-07-30T22:08Z","v":3.3},{"t":"2026-07-30T22:10Z","v":5.0},{"t":"2026-07-30T22:12Z","v":2.4},{"t":"2026-07-30T22:14Z","v":4.1},{"t":"2026-07-30T22:16Z","v":3.8},{"t":"2026-07-30T22:18Z","v":5.4},{"t":"2026-07-30T22:20Z","v":3.0},{"t":"2026-07-30T22:22Z","v":6.15},{"t":"2026-07-30T22:24Z","v":3.5},{"t":"2026-07-30T22:26Z","v":2.1},{"t":"2026-07-30T22:28Z","v":4.5},{"t":"2026-07-30T22:30Z","v":5.6},{"t":"2026-07-30T22:32Z","v":3.2},{"t":"2026-07-30T22:34Z","v":3.9},{"t":"2026-07-30T22:36Z","v":2.5},{"t":"2026-07-30T22:38Z","v":4.8},{"t":"2026-07-30T22:40Z","v":3.6},{"t":"2026-07-30T22:42Z","v":5.3},{"t":"2026-07-30T22:44Z","v":2.9},{"t":"2026-07-30T22:46Z","v":4.2},{"t":"2026-07-30T22:48Z","v":3.4},{"t":"2026-07-30T22:50Z","v":5.8},{"t":"2026-07-30T22:52Z","v":2.2},{"t":"2026-07-30T22:54Z","v":4.6},{"t":"2026-07-30T22:56Z","v":2.7},{"t":"2026-07-30T22:58Z","v":5.9},
{"t":"2026-07-30T23:00Z","v":3.7},{"t":"2026-07-30T23:02Z","v":5.5},{"t":"2026-07-30T23:04Z","v":2.9},{"t":"2026-07-30T23:06Z","v":4.4},{"t":"2026-07-30T23:08Z","v":3.5},{"t":"2026-07-30T23:10Z","v":6.05},{"t":"2026-07-30T23:12Z","v":2.3},{"t":"2026-07-30T23:14Z","v":4.8},{"t":"2026-07-30T23:16Z","v":3.9},{"t":"2026-07-30T23:18Z","v":2.6},{"t":"2026-07-30T23:20Z","v":5.2},{"t":"2026-07-30T23:22Z","v":3.3},{"t":"2026-07-30T23:24Z","v":4.1},{"t":"2026-07-30T23:26Z","v":5.7},{"t":"2026-07-30T23:28Z","v":2.0},{"t":"2026-07-30T23:30Z","v":3.6},{"t":"2026-07-30T23:32Z","v":6.1},{"t":"2026-07-30T23:34Z","v":3.4},{"t":"2026-07-30T23:36Z","v":4.5},{"t":"2026-07-30T23:38Z","v":2.9},{"t":"2026-07-30T23:40Z","v":5.0},{"t":"2026-07-30T23:42Z","v":3.8},{"t":"2026-07-30T23:44Z","v":2.2},{"t":"2026-07-30T23:46Z","v":5.65},{"t":"2026-07-30T23:48Z","v":3.2},{"t":"2026-07-30T23:50Z","v":4.3},{"t":"2026-07-30T23:52Z","v":2.7},{"t":"2026-07-30T23:54Z","v":3.9},{"t":"2026-07-30T23:56Z","v":1.75},{"t":"2026-07-30T23:58Z","v":3.0}
]
},
"layer": [
{
"data": {"name": "stab"},
"mark": {"type": "line", "strokeWidth": 1.6},
"encoding": {
"x": {"field": "t", "type": "temporal",
"scale": {"type": "utc", "domain": [1785369810000, 1785456000000]},
"axis": {"orient": "bottom", "title": "Time UTC", "values": [1785376800000, 1785384000000, 1785391200000, 1785398400000, 1785405600000, 1785412800000, 1785420000000, 1785427200000, 1785434400000, 1785441600000, 1785448800000, 1785456000000], "labelExpr": "[utcFormat(datum.value, '%d %b'), utcFormat(datum.value, '%H:%MZ')]", "labelLineHeight": 19, "labelPadding": 19, "labelFlush": false, "labelOverlap": false, "grid": true, "titlePadding": 12}},
"y": {"field": "v", "type": "quantitative",
"scale": {"domain": [0, 16.53], "nice": false},
"axis": {"orient": "left", "title": null, "values": [0, 2, 4, 6, 8, 10, 12, 14, 16], "labelExpr": "datum.value + ' ppb'", "labelPadding": 19, "grid": true}},
"color": {"datum": "Stability", "type": "nominal", "title": null,
"scale": {"domain": ["Stability", "99th percentile", "95th percentile", "5th percentile", "1st percentile"], "range": ["#0060ad", "#009e73", "#56b4e9", "#e69f00", "#f0e442"]},
"legend": {"orient": "top-right", "offset": 14, "title": null, "labelFontSize": 15, "labelColor": "black", "symbolType": "stroke", "symbolSize": 300, "symbolStrokeWidth": 1.3, "labelLimit": 300}}
}
},
{
"data": {"name": "pct"},
"mark": {"type": "rule", "strokeWidth": 1.3},
"encoding": {
"y": {"field": "v", "type": "quantitative", "axis": {"orient": "right", "title": null, "labels": false, "grid": false, "domain": false, "values": [0, 2, 4, 6, 8, 10, 12, 14, 16]}},
"color": {"field": "p", "type": "nominal", "title": null, "legend": {"title": null}}
}
},
{
"data": {"name": "stab"},
"mark": {"type": "line", "opacity": 0},
"encoding": {
"x": {"field": "t", "type": "temporal", "axis": {"orient": "top", "title": null, "labels": false, "grid": false, "domain": false, "values": [1785376800000, 1785384000000, 1785391200000, 1785398400000, 1785405600000, 1785412800000, 1785420000000, 1785427200000, 1785434400000, 1785441600000, 1785448800000, 1785456000000]}},
"y": {"field": "v", "type": "quantitative", "axis": null}
}
}
],
"resolve": {"axis": {"x": "independent", "y": "independent"}},
"config": {
"font": "DejaVu Sans",
"view": {"stroke": "black", "strokeWidth": 1},
"axis": {"domainColor": "black", "tickColor": "black", "tickSize": -7, "labelColor": "black", "labelFontSize": 15, "gridColor": "#c0c0c0", "gridDash": [1, 3.3], "gridWidth": 1, "titleFontSize": 15, "titleFontWeight": "normal", "titleColor": "black"}
}
}
